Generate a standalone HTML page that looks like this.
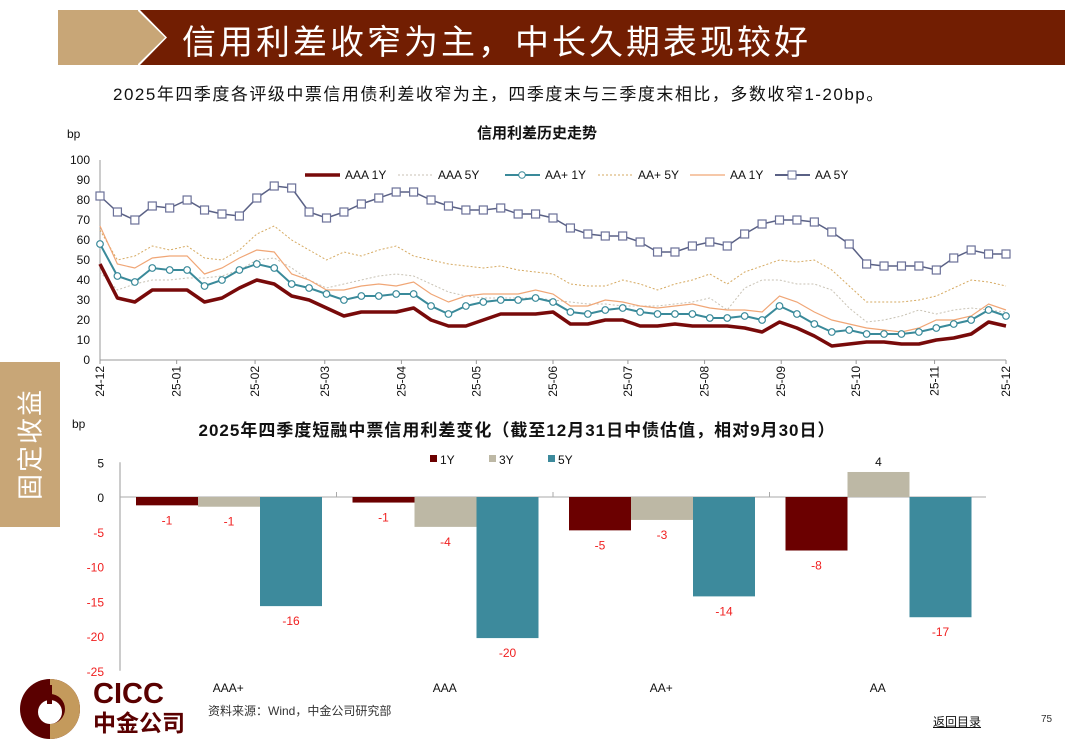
<!DOCTYPE html>
<html><head><meta charset="utf-8">
<style>
body{margin:0;width:1080px;height:755px;background:#fff;overflow:hidden;position:relative;font-family:"Liberation Sans","Noto Sans CJK SC",sans-serif;}
.abs{position:absolute;}
</style></head>
<body>
<div class="abs" style="left:58px;top:10px;width:80px;height:55px;background:#C8A677;"></div>
<svg class="abs" style="left:0;top:0" width="1080" height="70">
<polygon points="110,10 137,10 165,37.5 137,65 110,65" fill="#C8A677"/>
<polygon points="140,10 1065,10 1065,65 140,65 167,37.5" fill="#721E02"/>
</svg>
<div class="abs" style="left:182px;top:15px;color:#fff;font-size:34px;letter-spacing:3px;white-space:nowrap;">信用利差收窄为主，中长久期表现较好</div>
<div class="abs" style="left:113px;top:80px;font-size:17px;letter-spacing:1.5px;color:#111;white-space:nowrap;">2025年四季度各评级中票信用债利差收窄为主，四季度末与三季度末相比，多数收窄1-20bp。</div>
<div class="abs" style="left:0;top:362px;width:60px;height:165px;background:#C8A677;"></div>
<div class="abs" style="left:-52px;top:429px;width:165px;height:30px;line-height:30px;text-align:center;color:#fff;font-size:26px;letter-spacing:2px;transform:rotate(-90deg);white-space:nowrap;">固定收益</div>

<svg class="abs" style="left:0;top:0" width="1080" height="755" id="chart"></svg>

<svg class="abs" style="left:18px;top:677px" width="64" height="64">
<circle cx="32" cy="32" r="30" fill="#5A0000"/>
<path d="M32 2 A30 30 0 0 1 32 62 L32 47 A15 15 0 0 0 32 17 Z" fill="#C49A5C"/>
<circle cx="32" cy="35" r="12" fill="#fff"/>
<rect x="29" y="8" width="5" height="19" fill="#5A0000"/>
</svg>
<div class="abs" style="left:93px;top:680px;color:#5A0000;font-weight:bold;font-size:29px;line-height:28px;">CICC<br><span style="font-size:23px;">中金公司</span></div>
<div class="abs" style="left:208px;top:702px;font-size:12px;color:#333;">资料来源：Wind，中金公司研究部</div>
<div class="abs" style="left:933px;top:713px;font-size:12px;color:#111;text-decoration:underline;">返回目录</div>
<div class="abs" style="left:1041px;top:714px;font-size:10px;color:#333;">75</div>

<script>
const months=["24-12","25-01","25-02","25-03","25-04","25-05","25-06","25-07","25-08","25-09","25-10","25-11","25-12"];
const monthWeeks=[0,4.4,8.9,12.9,17.3,21.6,26,30.3,34.7,39.1,43.4,47.9,52];
const yTicksTop=[0,10,20,30,40,50,60,70,80,90,100];
const aaa1y=[48,31,29,35,35,35,29,31,36,40,38,32,30,26,22,24,24,24,26,20,17,17,20,23,23,23,24,18,18,20,20,17,17,18,17,17,17,16,14,19,16,12,7,8,9,9,8,8,10,11,13,19,17];
const aaa5y=[44,35,38,40,40,41,41,42,45,50,51,46,40,36,38,40,42,43,42,38,34,32,31,31,31,31,30,29,28,28,27,27,27,28,29,31,25,36,40,40,38,38,35,26,19,20,22,25,23,25,26,25,24];
const aap1y=[58,42,39,46,45,45,37,40,45,48,46,38,36,33,30,32,32,33,33,27,23,27,29,30,30,31,29,24,23,25,26,24,23,23,23,21,21,22,20,27,23,18,14,15,13,13,13,14,16,18,20,25,22];
const aap5y=[65,50,52,57,55,57,51,50,55,63,67,60,55,50,54,52,55,57,52,50,48,47,46,47,45,44,43,38,37,37,40,38,35,38,40,43,38,44,47,50,49,50,45,37,29,29,29,30,32,36,40,39,37];
const aa1y=[67,48,46,51,52,52,43,46,51,55,54,43,40,35,35,37,38,37,39,33,29,32,33,33,33,35,33,27,27,30,29,27,26,27,28,26,25,25,24,32,29,24,20,18,16,15,14,16,20,20,22,28,25];
const aa5y=[82,74,70,77,76,80,75,73,72,81,87,86,74,71,74,78,81,84,84,80,77,75,75,76,73,73,71,66,63,62,62,59,54,54,57,59,57,63,68,70,70,69,64,58,48,47,47,47,45,51,55,53,53];
const ratings=["AAA+","AAA","AA+","AA"];
const chg1y=[-1.2,-0.8,-4.8,-7.7];
const chg3y=[-1.4,-4.3,-3.3,3.6];
const chg5y=[-15.7,-20.3,-14.3,-17.3];
const yTicksBot=[5,0,-5,-10,-15,-20,-25];

const svg=document.getElementById('chart');
const NS='http://www.w3.org/2000/svg';
function mk(tag,attrs,parent){const e=document.createElementNS(NS,tag);for(const k in attrs)e.setAttribute(k,attrs[k]);(parent||svg).appendChild(e);return e;}
function txt(x,y,s,attrs){const t=mk('text',Object.assign({x:x,y:y,'font-family':'Liberation Sans, Noto Sans CJK SC, sans-serif','font-size':12,fill:'#111'},attrs||{}));t.textContent=s;return t;}

const X0=100,X1=1006,Y0=360,Y1=160,NW=52;
const xT=w=>X0+(X1-X0)*w/NW;
const yT=v=>Y0-(Y0-Y1)*v/100;
let t=txt(537,138,"信用利差历史走势",{'font-size':15,'font-weight':'bold','text-anchor':'middle'});

t=txt(67,138,"bp",{'font-size':12});

yTicksTop.forEach(v=>{const l=txt(90,yT(v)+4,String(v),{'text-anchor':'end'});
});
let ax=mk('line',{x1:X0,y1:Y1,x2:X0,y2:Y0,stroke:'#999'});

ax=mk('line',{x1:X0,y1:Y0,x2:X1,y2:Y0,stroke:'#999'});

months.forEach((m,i)=>{const x=xT(monthWeeks[i]);
mk('line',{x1:x,y1:Y0,x2:x,y2:Y0+4,stroke:'#999'});
const l=txt(0,0,m,{'text-anchor':'end',transform:`translate(${x+4},${Y0+6}) rotate(-90)`});
});

function series(arr,name,style,marker){
 const d=arr.map((v,i)=>(i?'L':'M')+xT(i).toFixed(1)+' '+yT(v).toFixed(1)).join(' ');
 const p=mk('path',Object.assign({d:d,fill:'none'},style));
 
 
 if(marker==='circle')arr.forEach((v,i)=>{const c=mk('circle',{cx:xT(i),cy:yT(v),r:3.3,fill:'#fff',stroke:'#3A8A9A','stroke-width':1.2});
 });
 if(marker==='square')arr.forEach((v,i)=>{const r=mk('rect',{x:xT(i)-4,y:yT(v)-4,width:8,height:8,fill:'#fff',stroke:'#6A7098','stroke-width':1.2});
 });
}
series(aaa5y,'aaa-5y-line',{stroke:'#C8C2B4','stroke-width':1,'stroke-dasharray':'2,2'});
series(aap5y,'aa-plus-5y-line',{stroke:'#D6AA62','stroke-width':1,'stroke-dasharray':'2,2'});
series(aa1y,'aa-1y-line',{stroke:'#F0A676','stroke-width':1.2});
series(aaa1y,'aaa-1y-line',{stroke:'#780A0A','stroke-width':3.5,'stroke-linejoin':'round'});
series(aap1y,'aa-plus-1y-line',{stroke:'#3A8A9A','stroke-width':2},'circle');
series(aa5y,'aa-5y-line',{stroke:'#5A6185','stroke-width':1.5},'square');

const legs=[[305,'AAA 1Y',{stroke:'#780A0A','stroke-width':3.5},null],[398,'AAA 5Y',{stroke:'#C8C2B4','stroke-width':1,'stroke-dasharray':'2,2'},null],[505,'AA+ 1Y',{stroke:'#3A8A9A','stroke-width':2},'c'],[598,'AA+ 5Y',{stroke:'#D6AA62','stroke-width':1,'stroke-dasharray':'2,2'},null],[690,'AA 1Y',{stroke:'#F0A676','stroke-width':1.2},null],[775,'AA 5Y',{stroke:'#5A6185','stroke-width':2},'s']];
legs.forEach(L=>{const g=mk('g',{});

mk('line',Object.assign({x1:L[0],y1:175,x2:L[0]+35,y2:175},L[2]),g);
if(L[3]==='c')mk('circle',{cx:L[0]+17,cy:175,r:3.3,fill:'#fff',stroke:'#3A8A9A'},g);
if(L[3]==='s')mk('rect',{x:L[0]+13,y:171,width:8,height:8,fill:'#fff',stroke:'#6A7098'},g);
const tt=txt(L[0]+40,179,L[1],{'font-size':12});g.appendChild(tt);});

const BX0=120,BY0=497,UPX=6.95,GW=216.5,BW=62;
const yB=v=>BY0-v*UPX;
t=txt(517,436,"2025年四季度短融中票信用利差变化（截至12月31日中债估值，相对9月30日）",{'font-size':17,'font-weight':'bold','text-anchor':'middle','letter-spacing':1});

t=txt(72,428,"bp",{'font-size':12});

yTicksBot.forEach(v=>{const l=txt(104,yB(v)+5,String(v),{'text-anchor':'end','font-size':12,fill:v<0?'#F02020':'#111'});
});
ax=mk('line',{x1:BX0,y1:yB(5),x2:BX0,y2:yB(-25),stroke:'#999'});

ax=mk('line',{x1:BX0,y1:BY0,x2:BX0+GW*4,y2:BY0,stroke:'#aaa'});

const cols=['#6B0000','#BDB8A5','#3D8A9C'];const sers=[chg1y,chg3y,chg5y];const snames=['1y','3y','5y'];
ratings.forEach((r,gi)=>{const gx=BX0+GW*gi;
 if(gi>0)mk('line',{x1:gx,y1:BY0,x2:gx,y2:BY0-5,stroke:'#aaa'});
 const cl=txt(gx+GW/2,692,r,{'text-anchor':'middle','font-size':12});
 
 sers.forEach((s,si)=>{const v=s[gi];const x=gx+16+BW*si;
  const b=mk('rect',{x:x,y:Math.min(yB(v),BY0),width:BW,height:Math.abs(v)*UPX,fill:cols[si]});
  
  
  const lv=Math.round(v);
  const ly=v<0?yB(v)+19:yB(v)-6;
  const lab=txt(x+BW/2,ly,String(lv),{'text-anchor':'middle','font-size':12,fill:v<0?'#F02020':'#111'});
  
 });
});
[[430,'1Y',cols[0]],[489,'3Y',cols[1]],[548,'5Y',cols[2]]].forEach(L=>{const g=mk('g',{});

mk('rect',{x:L[0],y:455,width:7,height:7,fill:L[2]},g);
g.appendChild(txt(L[0]+10,464,L[1],{'font-size':12}));});
</script>
</body></html>
